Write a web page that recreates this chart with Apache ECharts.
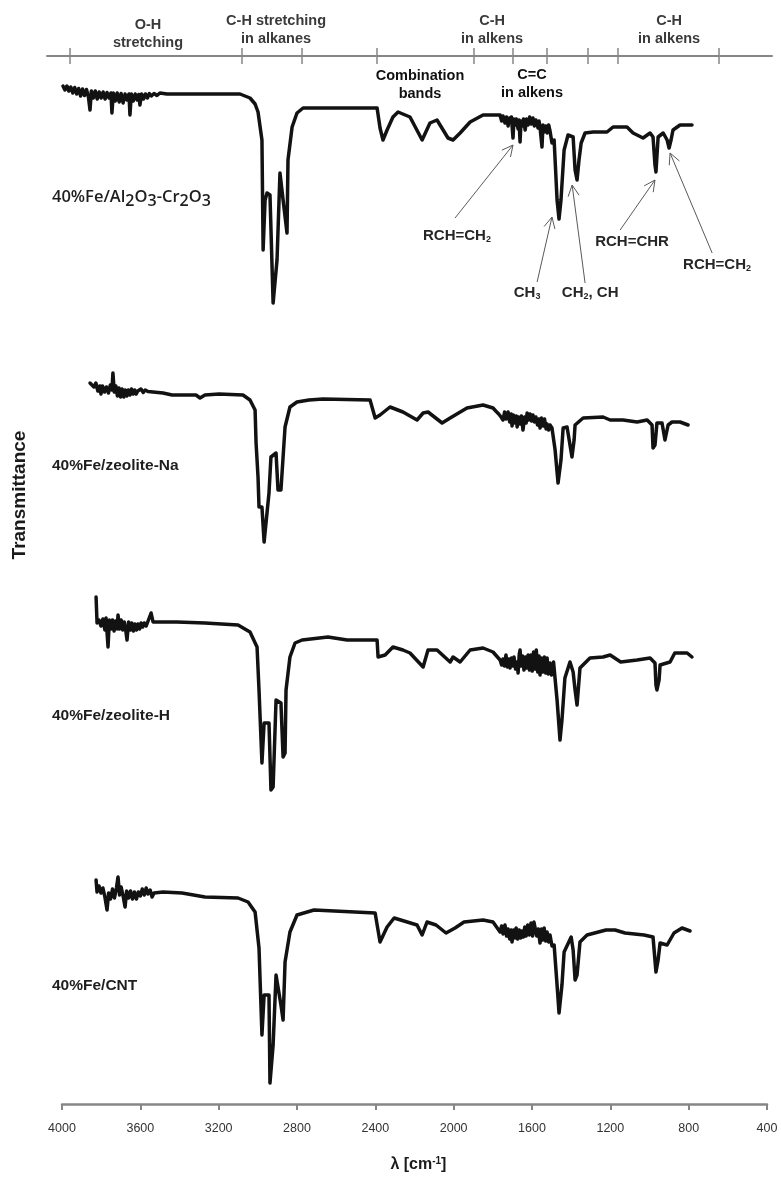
<!DOCTYPE html>
<html>
<head>
<meta charset="utf-8">
<script src="https://cdn.jsdelivr.net/npm/echarts@6/dist/echarts.min.js"></script>
<style>
  html, body { margin: 0; padding: 0; background: #ffffff; }
  #chart { width: 781px; height: 1178px; }
</style>
</head>
<body>
<div id="chart"></div>
<script>
// Wavenumber axis tick labels (cm-1)
const xTicks = [4000, 3600, 3200, 2800, 2400, 2000, 1600, 1200, 800, 400];

// Edges of the assignment ranges on the upper band scale (cm-1)
const bandEdges = [3959, 3081, 2774, 2391, 1896, 1697, 1523, 1314, 1160, 645];
// Band assignment captions and the wavenumber each one is centred on
const bandNames   = ['O-H\nstretching', 'C-H stretching\nin alkanes', 'Combination\nbands', 'C-H\nin alkens', 'C=C\nin alkens', 'C-H\nin alkens'];
const bandCenters = [3561, 2907, 2172, 1804, 1600, 900];

// Catalyst samples, top to bottom
const samples = ['40%Fe/Al2O3-Cr2O3', '40%Fe/zeolite-Na', '40%Fe/zeolite-H', '40%Fe/CNT'];

// Spectra: [wavenumber cm-1, transmittance a.u.]
const specAlCr = [
  [3995,93.6],[3985,92.0],[3975,93.6],[3965,91.6],[3955,93.2],[3945,90.8],[3935,93.0],[3925,90.4],[3915,92.6],[3905,89.6],
  [3895,92.4],[3885,89.8],[3875,92.2],[3865,89.2],[3857,84.0],[3850,91.6],[3840,88.8],[3830,91.6],[3820,88.4],[3810,91.2],
  [3800,88.8],[3790,91.2],[3780,88.4],[3770,91.0],[3760,88.8],[3750,90.8],[3745,82.8],[3738,90.8],[3728,87.6],[3718,90.8],
  [3708,87.2],[3698,90.6],[3688,86.8],[3678,90.4],[3668,88.0],[3658,90.4],[3653,82.0],[3646,90.4],[3636,87.6],[3626,90.4],
  [3616,88.0],[3608,90.2],[3602,86.0],[3594,90.4],[3584,88.4],[3574,90.4],[3564,88.8],[3554,90.6],[3544,89.6],[3530,90.6],
  [3515,89.8],[3500,90.8],[3464,90.4],[3295,90.4],[3091,90.4],[3040,88.8],[3014,86.4],[2999,83.2],[2979,72.0],[2973,28.0],
  [2963,48.0],[2953,50.8],[2938,50.0],[2922,6.8],[2902,24.0],[2887,58.8],[2871,48.0],[2851,34.8],[2846,64.0],[2825,77.2],
  [2800,82.8],[2769,84.8],[2580,84.8],[2391,84.8],[2376,76.8],[2361,72.0],[2340,76.0],[2310,81.2],[2284,83.2],[2223,81.2],
  [2161,72.0],[2121,78.8],[2085,80.0],[2029,72.8],[2003,72.0],[1967,74.8],[1916,79.2],[1850,82.0],[1763,82.0],[1755,79.6],
  [1748,81.6],[1738,78.8],[1730,81.2],[1722,77.6],[1716,80.8],[1712,79.2],[1705,81.2],[1697,72.8],[1692,80.4],[1687,78.0],
  [1680,80.4],[1671,76.4],[1666,80.0],[1661,71.2],[1656,79.6],[1651,77.6],[1643,80.4],[1635,76.0],[1628,80.4],[1620,78.0],
  [1612,81.2],[1604,78.4],[1595,80.8],[1588,77.6],[1580,80.0],[1569,76.8],[1564,79.6],[1559,77.2],[1549,69.2],[1544,78.0],
  [1538,75.2],[1530,77.6],[1523,74.8],[1515,78.0],[1508,75.6],[1498,70.8],[1487,72.0],[1472,48.0],[1462,40.4],[1452,48.0],
  [1436,68.0],[1416,74.0],[1390,73.2],[1380,60.0],[1370,56.0],[1360,64.0],[1349,70.8],[1329,74.8],[1288,75.2],[1217,75.2],
  [1186,77.2],[1115,77.2],[1084,74.8],[1033,72.8],[997,74.8],[982,73.2],[972,62.0],[967,59.2],[956,73.2],[930,74.8],
  [910,72.0],[900,68.8],[890,72.0],[880,76.0],[844,78.0],[783,78.0]
];
const specZeoNa = [
  [3857,82.8],[3847,83.2],[3837,81.2],[3827,82.8],[3817,79.6],[3807,81.6],[3801,78.4],[3793,81.6],[3783,79.2],[3773,81.2],
  [3763,78.8],[3753,82.0],[3745,80.0],[3740,86.8],[3733,79.2],[3725,81.6],[3717,77.6],[3709,80.8],[3701,77.2],[3693,80.4],
  [3685,77.2],[3677,80.0],[3669,77.6],[3661,80.0],[3653,78.0],[3645,80.4],[3637,78.4],[3629,80.0],[3621,78.4],[3613,79.6],
  [3605,78.8],[3597,80.4],[3585,79.0],[3575,80.0],[3561,79.4],[3535,79.2],[3484,78.8],[3438,78.0],[3316,78.0],[3295,76.8],
  [3270,78.0],[3198,78.4],[3076,78.0],[3040,76.0],[3014,72.0],[3009,58.8],[2999,45.2],[2994,33.2],[2979,33.2],[2968,19.2],
  [2958,19.2],[2943,38.8],[2933,53.2],[2907,54.8],[2897,40.0],[2882,40.0],[2871,53.2],[2861,65.2],[2836,73.2],[2800,75.2],
  [2739,76.0],[2667,76.4],[2427,76.0],[2401,68.8],[2376,70.0],[2325,73.2],[2259,71.2],[2187,68.0],[2156,70.8],[2131,71.2],
  [2059,66.8],[2018,68.8],[1932,72.8],[1850,74.0],[1799,72.8],[1785,71.6],[1770,70.4],[1758,69.2],[1748,68.0],[1740,71.2],
  [1732,68.4],[1722,71.2],[1714,67.2],[1706,70.4],[1702,65.6],[1695,70.0],[1687,66.8],[1680,69.6],[1676,65.2],[1668,69.2],
  [1661,66.4],[1654,69.6],[1646,64.0],[1638,69.2],[1630,66.8],[1625,70.8],[1617,68.0],[1610,70.4],[1602,67.6],[1595,70.0],
  [1588,67.2],[1580,69.2],[1572,66.0],[1565,68.4],[1559,64.8],[1552,68.8],[1544,65.6],[1536,68.4],[1528,64.4],[1523,66.4],
  [1515,64.0],[1508,66.0],[1498,64.8],[1482,56.0],[1467,42.8],[1452,52.0],[1441,64.8],[1421,65.2],[1406,58.0],[1396,53.2],
  [1385,60.0],[1380,66.0],[1339,68.8],[1237,69.2],[1201,68.0],[1135,68.0],[1063,67.2],[1012,68.0],[987,66.0],[982,56.8],
  [972,58.0],[962,66.8],[936,66.8],[921,60.0],[916,60.8],[905,66.0],[885,67.2],[844,67.2],[803,66.0]
];
const specZeoH = [
  [3826,93.2],[3821,82.8],[3811,84.0],[3801,81.6],[3791,84.4],[3781,80.0],[3775,84.8],[3765,73.2],[3758,84.0],[3750,80.4],
  [3742,84.0],[3734,79.6],[3726,83.6],[3718,80.4],[3714,86.0],[3706,80.4],[3698,84.0],[3690,80.0],[3682,83.2],[3674,79.6],
  [3668,76.0],[3660,83.2],[3652,80.0],[3644,82.8],[3636,79.6],[3628,82.4],[3620,80.0],[3612,82.4],[3604,80.4],[3596,82.8],
  [3588,81.2],[3580,82.8],[3570,81.6],[3561,82.4],[3545,86.8],[3535,83.2],[3464,83.2],[3413,83.2],[3270,82.8],[3101,82.0],
  [3040,79.2],[3004,73.2],[2994,56.0],[2979,26.8],[2968,42.8],[2943,42.8],[2933,16.0],[2922,17.2],[2907,52.0],[2882,50.8],
  [2871,29.2],[2861,30.8],[2856,56.0],[2836,69.2],[2810,74.8],[2774,76.0],[2642,77.2],[2544,76.0],[2391,76.0],[2386,69.2],
  [2350,70.0],[2310,73.2],[2259,72.0],[2223,70.8],[2156,65.2],[2131,72.0],[2085,72.0],[2018,67.2],[2003,69.2],[1967,67.2],
  [1916,72.0],[1850,72.8],[1799,71.2],[1763,68.0],[1755,66.0],[1748,68.4],[1740,65.6],[1733,70.0],[1725,65.2],[1718,68.4],
  [1712,64.8],[1705,68.8],[1698,65.6],[1692,69.2],[1684,64.4],[1676,67.2],[1671,62.8],[1665,70.4],[1661,72.0],[1655,65.6],
  [1648,69.6],[1641,64.0],[1634,69.2],[1627,64.8],[1620,70.0],[1613,64.0],[1606,70.0],[1599,63.6],[1592,71.2],[1585,64.4],
  [1578,72.0],[1571,63.2],[1564,69.6],[1559,62.0],[1552,68.8],[1544,63.2],[1537,69.2],[1530,62.8],[1523,68.8],[1516,62.4],
  [1508,66.8],[1500,62.0],[1490,67.2],[1482,68.0],[1472,52.0],[1457,36.0],[1447,44.0],[1432,60.8],[1406,67.2],[1390,63.2],
  [1380,56.0],[1370,50.0],[1355,64.8],[1304,68.8],[1237,69.2],[1201,70.0],[1147,67.2],[1063,68.0],[997,68.8],[972,66.8],
  [967,58.0],[962,56.0],[951,60.0],[946,66.0],[895,67.2],[871,70.8],[808,70.8],[783,69.2]
];
const specCNT = [
  [3826,89.6],[3821,84.8],[3811,87.2],[3801,84.4],[3791,86.4],[3781,82.8],[3770,77.6],[3762,84.4],[3752,82.0],[3742,86.0],
  [3732,82.4],[3722,86.4],[3714,90.8],[3706,83.6],[3698,86.8],[3688,83.2],[3678,78.8],[3670,85.2],[3660,82.4],[3650,85.2],
  [3640,82.0],[3630,84.8],[3620,82.0],[3610,84.8],[3600,83.2],[3590,86.0],[3580,83.6],[3570,86.4],[3561,84.0],[3550,85.6],
  [3540,82.8],[3530,84.4],[3520,83.6],[3484,84.8],[3387,84.4],[3270,82.8],[3101,82.4],[3050,80.8],[3014,76.8],[2994,62.4],
  [2979,27.6],[2968,43.6],[2943,43.6],[2938,8.4],[2922,23.6],[2907,51.6],[2882,39.6],[2871,33.6],[2861,56.8],[2836,68.8],
  [2800,75.6],[2713,77.6],[2401,76.4],[2376,64.8],[2340,70.8],[2304,74.4],[2187,71.6],[2161,67.6],[2136,72.8],[2090,71.6],
  [2039,68.4],[1993,70.4],[1947,72.8],[1850,73.6],[1799,72.8],[1763,68.8],[1755,71.2],[1748,68.0],[1738,71.6],[1730,67.2],
  [1722,70.0],[1714,66.0],[1706,69.6],[1702,64.8],[1694,69.6],[1686,66.4],[1681,70.4],[1673,66.0],[1665,69.6],[1658,66.4],
  [1651,69.2],[1644,66.8],[1637,70.8],[1630,67.2],[1622,71.6],[1614,67.6],[1605,72.4],[1597,67.2],[1590,72.8],[1584,73.6],
  [1576,67.2],[1568,70.0],[1559,64.4],[1552,70.0],[1545,65.6],[1538,70.4],[1530,65.2],[1523,68.8],[1515,64.8],[1508,67.6],
  [1498,63.2],[1487,63.6],[1472,47.6],[1462,36.4],[1447,47.6],[1436,60.8],[1400,66.8],[1390,61.6],[1380,49.6],[1370,51.6],
  [1355,64.8],[1319,67.6],[1222,69.6],[1176,69.6],[1125,68.4],[1028,67.6],[982,66.8],[967,52.8],[956,57.6],[946,64.4],
  [910,63.6],[875,68.4],[834,70.4],[793,69.2]
];
const spectra = [specAlCr, specZeoNa, specZeoH, specCNT];

// Peak assignments on the first spectrum: caption, arrow tip, arrow tail, caption centre ([cm-1, a.u.])
const peakNames = ['RCH=CH2', 'CH3', 'CH2, CH', 'RCH=CHR', 'RCH=CH2'];
const peakTips  = [[1697, 70.0], [1498, 41.2], [1395, 54.0], [972, 56.0], [895, 66.8]];
const peakTails = [[1993, 40.8], [1574, 15.2], [1329, 14.8], [1150, 36.0], [680, 26.8]];
const peakText  = [[1983, 33.6], [1625, 10.8], [1303, 10.8], [1089, 31.2], [655, 22.0]];

const INK = '#121212';
const AXIS = '#868686';
const SANS = '"Liberation Sans", Arial, sans-serif';

// chemical formula digits -> subscript rich-text tokens
const chem = s => s.replace(/([A-Za-z])(\d)/g, '$1{s|$2}');

const chart = echarts.init(document.getElementById('chart'), null, { renderer: 'canvas' });

// layout of the four stacked spectra panels (px)
const panels = [
  { top: 70,  bottom: 1178 - 320 },
  { top: 340, bottom: 1178 - 590 },
  { top: 580, bottom: 1178 - 830 },
  { top: 854, bottom: 1178 - 1104 }
];

const grids = [{ left: 47, right: 9, top: 56, height: 20 }].concat(
  panels.map(p => ({ left: 62, right: 14, top: p.top, bottom: p.bottom }))
);

const bandAxisBase = {
  gridIndex: 0, type: 'value', position: 'top', min: 374, max: 4077, inverse: true,
  axisLabel: { show: false }, splitLine: { show: false }
};

const xAxes = [
  Object.assign({}, bandAxisBase, {
    axisLine: { show: true, onZero: false, lineStyle: { color: AXIS, width: 2 } },
    axisTick: { show: true, inside: false, length: 8, customValues: bandEdges, lineStyle: { color: AXIS, width: 1.5 } }
  }),
  Object.assign({}, bandAxisBase, {
    axisLine: { show: false, onZero: false },
    axisTick: { show: true, inside: true, length: 8, customValues: bandEdges, lineStyle: { color: AXIS, width: 1.5 } }
  })
].concat(panels.map((p, i) => ({
  gridIndex: i + 1,
  type: 'value',
  min: xTicks[xTicks.length - 1],
  max: xTicks[0],
  interval: 400,
  inverse: true,
  show: i === panels.length - 1,
  axisLine: { show: true, onZero: false, lineStyle: { color: AXIS, width: 2.5 } },
  axisTick: { show: true, length: 6, lineStyle: { color: AXIS, width: 2 } },
  axisLabel: { color: '#333', fontSize: 12.5, fontFamily: SANS, margin: 18, formatter: v => String(v) },
  splitLine: { show: false }
})));

const yAxes = [{ gridIndex: 0, type: 'value', show: false, min: 0, max: 1 }].concat(
  panels.map((p, i) => ({ gridIndex: i + 1, type: 'value', show: false, min: 0, max: 100 }))
);

const series = spectra.map((d, i) => ({
  name: samples[i],
  type: 'line',
  xAxisIndex: i + 2,
  yAxisIndex: i + 1,
  data: d,
  showSymbol: false,
  symbol: 'none',
  smooth: false,
  lineStyle: { color: INK, width: 3.5, join: 'round', cap: 'round' },
  emphasis: { disabled: true }
}));

chart.setOption({
  animation: false,
  backgroundColor: '#ffffff',
  textStyle: { fontFamily: SANS },
  grid: grids,
  xAxis: xAxes,
  yAxis: yAxes,
  series: series
});

// ---- annotations ----
const gfx = [];
const bx = v => chart.convertToPixel({ xAxisIndex: 5 }, v);
const p1 = pt => chart.convertToPixel({ gridIndex: 1 }, pt);

// band assignment captions above the band scale
const bandRowY = [34, 30, 85, 30, 84, 30];
const bandStrong = [false, false, true, false, true, false];
bandNames.forEach((t, i) => {
  gfx.push({
    type: 'text', x: bx(bandCenters[i]), y: bandRowY[i], silent: true,
    style: {
      text: t, textAlign: 'center', textVerticalAlign: 'middle',
      fontFamily: SANS, fontWeight: 'bold', fontSize: 14.5, lineHeight: 18,
      fill: bandStrong[i] ? '#111' : '#3a3a3a'
    }
  });
});

// sample names beside each spectrum
const sampleY = [197, 466, 716, 986];
samples.forEach((s, i) => {
  const first = i === 0;
  gfx.push({
    type: 'text', x: 52, y: sampleY[i], silent: true,
    style: {
      text: chem(s), textAlign: 'left', textVerticalAlign: 'middle',
      fontFamily: first ? '"Open Sans", sans-serif' : SANS,
      fontWeight: first ? 600 : 'bold',
      fontSize: first ? 16.5 : 15.5, fill: '#1e1e1e',
      rich: {
        s: { fontFamily: '"Open Sans", sans-serif', fontWeight: 600, fontSize: 16, fill: '#1e1e1e', padding: [9, 0, 0, 0] }
      }
    }
  });
});

// peak assignment arrows
function arrow(tail, tip) {
  const dx = tip[0] - tail[0], dy = tip[1] - tail[1];
  const len = Math.hypot(dx, dy), ux = dx / len, uy = dy / len;
  const h = 11, w = 0.5;
  const bxp = tip[0] - ux * h, byp = tip[1] - uy * h;
  const a = [bxp - uy * h * w, byp + ux * h * w];
  const b = [bxp + uy * h * w, byp - ux * h * w];
  const st = { stroke: '#5a5a5a', lineWidth: 1, fill: null };
  return [
    { type: 'polyline', silent: true, shape: { points: [tail, tip] }, style: st },
    { type: 'polyline', silent: true, shape: { points: [a, tip, b] }, style: st }
  ];
}
peakNames.forEach((n, i) => {
  arrow(p1(peakTails[i]), p1(peakTips[i])).forEach(e => gfx.push(e));
  const c = p1(peakText[i]);
  gfx.push({
    type: 'text', x: c[0], y: c[1], silent: true,
    style: {
      text: chem(n), textAlign: 'center', textVerticalAlign: 'middle',
      fontFamily: SANS, fontWeight: 'bold', fontSize: 15, fill: '#262626',
      rich: { s: { fontFamily: SANS, fontWeight: 'bold', fontSize: 9, fill: '#262626', padding: [8, 0, 0, 0] } }
    }
  });
});

// axis titles
gfx.push({
  type: 'text', x: 20, y: 495, rotation: Math.PI / 2, silent: true,
  style: {
    text: 'Transmittance', textAlign: 'center', textVerticalAlign: 'middle',
    fontFamily: SANS, fontWeight: 'bold', fontSize: 19, fill: '#1a1a1a'
  }
});
gfx.push({
  type: 'text', x: bx(2180), y: 1165, silent: true,
  style: {
    text: 'λ [cm{sup|-1}]', textAlign: 'center', textVerticalAlign: 'middle',
    fontFamily: SANS, fontWeight: 'bold', fontSize: 16, fill: '#1a1a1a',
    rich: { sup: { fontFamily: SANS, fontWeight: 'bold', fontSize: 10, fill: '#1a1a1a', padding: [0, 0, 8, 0] } }
  }
});

chart.setOption({ graphic: gfx });
</script>
</body>
</html>
